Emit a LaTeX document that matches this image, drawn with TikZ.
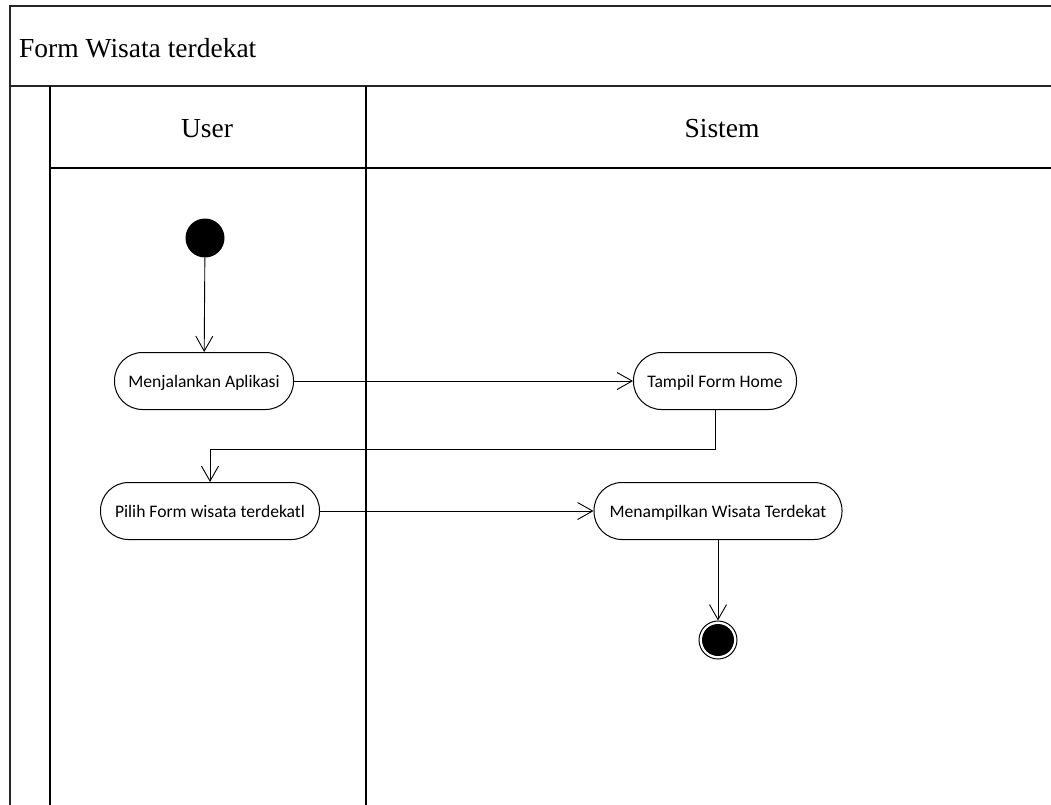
\documentclass[tikz,border=0pt]{standalone}
\usepackage{fontspec}
\setmainfont{Liberation Serif}
\newfontfamily\nodefont{Carlito}
\usetikzlibrary{arrows.meta}
\begin{document}
\begin{tikzpicture}[x=1pt,y=-1pt,
  act/.style={draw,line width=1pt,rectangle,rounded corners=28pt,minimum height=57pt,inner xsep=0pt,text height=14pt,text depth=2pt,font=\nodefont\fontsize{17.6}{20}\selectfont,fill=white},
  flow/.style={draw,line width=0.9pt,-{Straight Barb[length=15pt,width=17pt,line width=0.9pt]}},
  frame/.style={draw,line width=1.4pt,color=black!85},
  lane/.style={draw,line width=1.1pt},
  hdr/.style={font=\fontsize{27.5}{32}\selectfont,inner sep=0pt}]
\useasboundingbox (0,0) rectangle (1051,804);
% frame
\draw[frame] (1100,6) -- (10,6) -- (10,830);
\draw[frame] (10,86) -- (1100,86);
\draw[lane] (50,86) -- (50,830);
\draw[lane] (366,86) -- (366,830);
\draw[lane] (50,168) -- (1100,168);
\node[hdr,anchor=west] (title) at (19,48) {Form Wisata terdekat};
\node[hdr] (user) at (207,129) {User};
\node[hdr] (sistem) at (722,129) {Sistem};
% nodes
\node[circle,fill=black,minimum size=39pt,inner sep=0pt] (start) at (205,238) {};
\node[act,minimum width=179pt] (a1) at (204,381) {Menjalankan Aplikasi};
\node[act,minimum width=163pt] (a2) at (715,381) {Tampil Form Home};
\node[act,minimum width=219pt] (a3) at (210,511) {Pilih Form wisata terdekatl};
\node[act,minimum width=248pt] (a4) at (718,511) {Menampilkan Wisata Terdekat};
\node[circle,draw,line width=1pt,minimum size=38pt,inner sep=0pt] (end) at (718,640) {};
\node[circle,fill=black,minimum size=32pt,inner sep=0pt] at (end.center) {};
% flows
\draw[flow] (start) -- (a1);
\draw[flow] (a1) -- (a2);
\coordinate (b1) at (715,449);
\coordinate (b2) at (210,449);
\draw[flow] (a2.south) -- (b1) -- (b2) -- (a3.north);
\draw[flow] (a3) -- (a4);
\draw[flow] (a4.south) -- (end.north);
\end{tikzpicture}
\end{document}
